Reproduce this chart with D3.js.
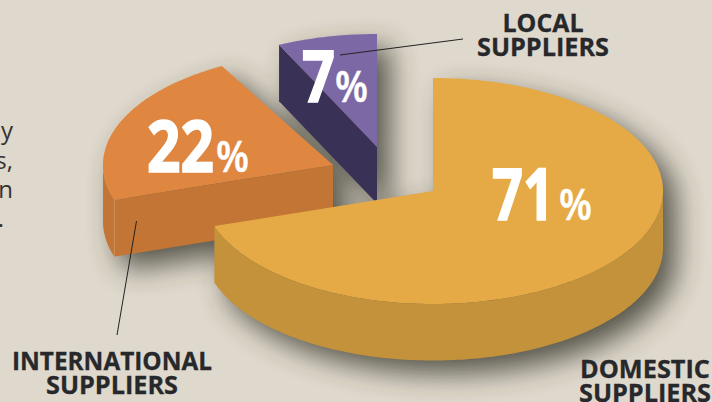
<!DOCTYPE html>
<head>
  <meta charset="utf-8">
  <script src='https://d3js.org/d3.v7.min.js'></script>
  <style>
    body { margin: 0; background: #dfd8cc; overflow: hidden; }
    svg { display: block; }
    .name { font: bold 25px 'Open Sans', sans-serif; fill: #27282b; stroke: #27282b; stroke-width: 0.3; text-anchor: middle; }
    .body-text { font: 24px 'Open Sans', sans-serif; fill: #333; }
    .big { font: bold 72px 'Open Sans', sans-serif; fill: #fff; stroke: #fff; stroke-width: 1.6; }
    .pct { font: 600 44px 'Open Sans', sans-serif; fill: #fff; stroke: #fff; stroke-width: 0.5; }
    .leader { stroke: #222; stroke-width: 1; fill: none; }
  </style>
</head>
<body>
<script>
// values
var categories = ['DOMESTIC', 'INTERNATIONAL', 'LOCAL'];
var shares = [71, 22, 7];
var labelSecondLine = 'SUPPLIERS';
var bodyTextBits = ['y', 's,', 'n', '.'];

var width = 712, height = 402;
var rx = 230, ry = 113, depth = 56.5;
var rad = Math.PI / 180;

// the original drops a sliver of about 3.7deg between the two big slices
var sliver = 3.7 * rad;

// where each slice apex sits, it is an exploded pie
var apex = [[433, 191], [333, 165], [377, 147]];
var topColor = ['#e5aa45', '#df8641', '#7d68a6'];
var wallColor = ['#c4923a', '#c37535', '#3a3156'];

var nameX = [645, 112, 543];
var nameY = [[378, 402], [370, 394], [32, 56]];
var nameW = [130, 200, 81];
var secondW = 132;
var bigBox = [[492, 220, 62], [147, 172, 67], [302, 102, 33]];
var pctBox = [[559, 220, 33], [216, 172, 33], [335, 102, 33]];
var leaders = [[[340, 55], [463, 39]], [[136.5, 221], [117, 335]]];
var bodyX = [13, 13, 13, 4];
var bodyY = [139, 169, 198, 227];

var svg = d3.select('body').append('svg')
  .attr('width', width)
  .attr('height', height);

var defs = svg.append('defs');
defs.append('filter')
  .attr('id', 'blur')
  .attr('x', '-30%').attr('y', '-30%')
  .attr('width', '160%').attr('height', '160%')
  .append('feGaussianBlur').attr('stdDeviation', 14);

var slices = d3.pie().sort(null)(shares).map(function(d, i) {
  var a0 = d.startAngle, a1 = d.endAngle;
  if (i === 0) a1 -= sliver;
  if (i === 1) { a0 -= sliver; a1 -= sliver; }
  return { i: i, a0: a0, a1: a1, value: d.value };
});

function pt(a, dy) {
  return [rx * Math.sin(a), -ry * Math.cos(a) + (dy || 0)];
}

var line = d3.line();

function arcPts(a0, a1, dy) {
  var n = Math.max(2, Math.ceil((a1 - a0) / rad));
  return d3.range(n + 1).map(function(k) {
    return pt(a0 + (a1 - a0) * k / n, dy);
  });
}

function topPath(s) {
  return line([[0, 0]].concat(arcPts(s.a0, s.a1))) + 'Z';
}

// outer rim, only the part facing us
function wallPath(s) {
  var a0 = Math.max(s.a0, Math.PI / 2), a1 = Math.min(s.a1, 3 * Math.PI / 2);
  if (a1 <= a0) return null;
  return line(arcPts(a0, a1).concat(arcPts(a0, a1, depth).reverse())) + 'Z';
}

// cut face along the first edge of the slice
function cutPath(s) {
  if (Math.sin(s.a0) >= 0) return null;
  return line([[0, 0], pt(s.a0), pt(s.a0, depth), [0, depth]]) + 'Z';
}

// shadows all go under all the slices
var shadow = svg.append('g')
  .attr('filter', 'url(#blur)')
  .attr('fill', '#35342a')
  .attr('opacity', 0.8);

slices.forEach(function(s) {
  var g = shadow.append('g')
    .attr('transform', 'translate(' + (apex[s.i][0] + 13) + ',' + (apex[s.i][1] + 13) + ')');
  [topPath(s), wallPath(s), cutPath(s)].forEach(function(p) {
    if (p) g.append('path').attr('d', p);
  });
});

// back to front: local, international, domestic
var pie = svg.selectAll('g.slice')
  .data(slices.slice().reverse())
  .enter().append('g')
  .attr('class', 'slice')
  .attr('transform', function(d) { return 'translate(' + apex[d.i] + ')'; });

pie.append('path')
  .attr('d', function(d) { return wallPath(d); })
  .attr('fill', function(d) { return wallColor[d.i]; });

pie.append('path')
  .attr('d', function(d) { return cutPath(d); })
  .attr('fill', function(d) { return wallColor[d.i]; });

pie.append('path')
  .attr('d', topPath)
  .attr('fill', function(d) { return topColor[d.i]; });

// thin light seam on the corner of the orange slice
pie.filter(function(d) { return d.i === 1; })
  .append('path')
  .attr('d', function(d) { return line([pt(d.a0), pt(d.a0, depth)]); })
  .attr('stroke', '#d49058')
  .attr('stroke-width', 0.8);

svg.selectAll('line.leader')
  .data(leaders)
  .enter().append('line')
  .attr('class', 'leader')
  .attr('x1', function(d) { return d[0][0]; })
  .attr('y1', function(d) { return d[0][1]; })
  .attr('x2', function(d) { return d[1][0]; })
  .attr('y2', function(d) { return d[1][1]; });

// big numbers are a condensed face in the original, squeezed here
svg.selectAll('text.big')
  .data(slices)
  .enter().append('text')
  .attr('class', 'big')
  .attr('x', function(d) { return bigBox[d.i][0]; })
  .attr('y', function(d) { return bigBox[d.i][1]; })
  .attr('textLength', function(d) { return bigBox[d.i][2]; })
  .attr('lengthAdjust', 'spacingAndGlyphs')
  .text(function(d) { return d.value; });

svg.selectAll('text.pct')
  .data(slices)
  .enter().append('text')
  .attr('class', 'pct')
  .attr('x', function(d) { return pctBox[d.i][0]; })
  .attr('y', function(d) { return pctBox[d.i][1]; })
  .attr('textLength', function(d) { return pctBox[d.i][2]; })
  .attr('lengthAdjust', 'spacingAndGlyphs')
  .text('%');

categories.forEach(function(c, i) {
  svg.append('text').attr('class', 'name')
    .attr('x', nameX[i]).attr('y', nameY[i][0])
    .attr('textLength', nameW[i]).attr('lengthAdjust', 'spacingAndGlyphs')
    .text(c);
  svg.append('text').attr('class', 'name')
    .attr('x', nameX[i]).attr('y', nameY[i][1])
    .attr('textLength', secondW).attr('lengthAdjust', 'spacingAndGlyphs')
    .text(labelSecondLine);
});

// end of a paragraph cut off by the crop
svg.selectAll('text.body-text')
  .data(bodyTextBits)
  .enter().append('text')
  .attr('class', 'body-text')
  .attr('x', function(d, i) { return bodyX[i]; })
  .attr('y', function(d, i) { return bodyY[i]; })
  .attr('text-anchor', 'end')
  .text(function(d) { return d; });
</script>
</body>
